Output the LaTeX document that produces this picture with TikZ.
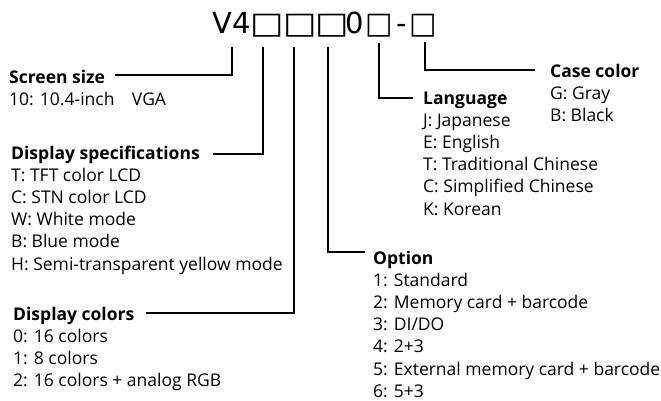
\documentclass[tikz,border=0pt]{standalone}
\usepackage{fontspec}
\setmainfont{Open Sans}
\newfontfamily\titlefont{DejaVu Sans}
\usetikzlibrary{calc}
\tikzset{
  head/.style={anchor=base west, inner sep=0pt, font=\fontsize{17.5}{22.2}\selectfont\bfseries},
  items/.style={anchor=base west, inner sep=0pt, font=\fontsize{17.5}{22.2}\selectfont},
  glyph/.style={anchor=base, inner sep=0pt, font=\titlefont\fontsize{29}{30}\selectfont},
  sq/.style={glyph, font=\titlefont\fontsize{30}{30}\selectfont},
  conn/.style={line width=1.4pt, black},
}
\begin{document}
\begin{tikzpicture}[x=1pt,y=-1pt]
\useasboundingbox (0,0) rectangle (661,400);
% model code
\node[glyph, anchor=base west] (cV) at (212.5,33) {V4};
\node[sq] (s1) at (267,33) {\scalebox{1.18}[1]{□}};
\node[sq] (s2) at (300,33) {\scalebox{1.18}[1]{□}};
\node[sq] (s3) at (332,33) {\scalebox{1.18}[1]{□}};
\node[glyph] (c0) at (355,33) {0};
\node[sq] (s4) at (379,33) {\scalebox{0.97}[1]{□}};
\node[glyph] (cd) at (401.5,33) {-};
\node[sq] (s5) at (423,33) {\scalebox{0.97}[1]{□}};
\coordinate (t1) at (232,47);
\coordinate (t2) at (263,47);
\coordinate (t3) at (294,47);
\coordinate (t4) at (328,47);
\coordinate (t5) at (379,43);
\coordinate (t6) at (425,42);
% labels
\node[head] (hScreen) at (9,83) {Screen size};
\node[items] (iScreen) at (9,105.2) {\begin{tabular}[t]{@{}l@{}}10: 10.4-inch\quad VGA\end{tabular}};
\node[head] (hSpec) at (11,159) {Display specifications};
\node[items] (iSpec) at (11,181.2) {\begin{tabular}[t]{@{}l@{}}T: TFT color LCD\\C: STN color LCD\\W: White mode\\B: Blue mode\\H: Semi-transparent yellow mode\end{tabular}};
\node[head] (hColors) at (13,320) {Display colors};
\node[items] (iColors) at (13,342.2) {\begin{tabular}[t]{@{}l@{}}0: 16 colors\\1: 8 colors\\2: 16 colors + analog RGB\end{tabular}};
\node[head] (hOption) at (373,264) {Option};
\node[items] (iOption) at (373,286.2) {\begin{tabular}[t]{@{}l@{}}1: Standard\\2: Memory card + barcode\\3: DI/DO\\4: 2+3\\5: External memory card + barcode\\6: 5+3\end{tabular}};
\node[head] (hLang) at (423,104) {Language};
\node[items] (iLang) at (423,126.2) {\begin{tabular}[t]{@{}l@{}}J: Japanese\\E: English\\T: Traditional Chinese\\C: Simplified Chinese\\K: Korean\end{tabular}};
\node[head] (hCase) at (550,77) {Case color};
\node[items] (iCase) at (550,99.2) {\begin{tabular}[t]{@{}l@{}}G: Gray\\B: Black\end{tabular}};
% connectors
\draw[conn] (t1) |- ($(hScreen.base west)+(106,-8)$);
\draw[conn] (t2) |- ($(hSpec.base west)+(202,-5)$);
\draw[conn] (t3) |- ($(hColors.base west)+(133,-7)$);
\draw[conn] (t4) |- ($(hOption.base west)+(-8,-12)$);
\draw[conn] (t5) |- ($(hLang.base west)+(-10,-6)$);
\draw[conn] (t6) |- ($(hCase.base west)+(-15,-7)$);
\end{tikzpicture}
\end{document}
